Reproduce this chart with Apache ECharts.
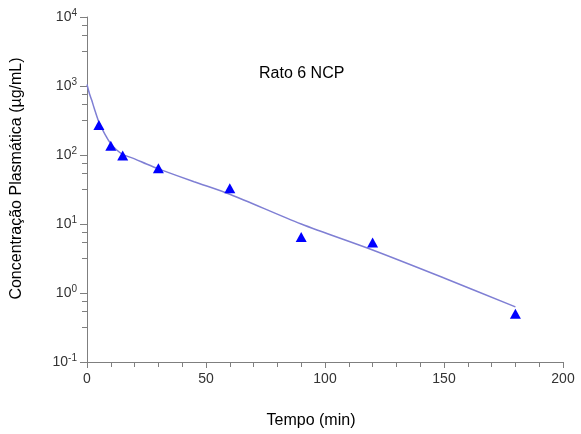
<!DOCTYPE html>
<html>
<head>
<meta charset="utf-8">
<script src="https://cdn.jsdelivr.net/npm/echarts@6/dist/echarts.min.js"></script>
<style>html,body{margin:0;padding:0;background:#fff}#c{width:581px;height:434px}</style>
</head>
<body>
<div id="c"></div>
<script>
// Observed data (time in min, concentration in µg/mL)
var obsTime = [5, 10, 15, 30, 60, 90, 120, 180];
var obsConc = [272, 136, 98, 64, 33, 6.5, 5.4, 0.5];
// Fitted curve
var fitTime = [0, 1, 2, 3, 5, 7.5, 10, 12.5, 15, 20, 25, 30, 45, 60, 90, 120, 150, 180];
var fitConc = [1050, 780, 620, 480, 300, 200, 145, 118, 102, 88, 74, 63, 41, 27, 10, 4.2, 1.65, 0.63];
// Minor tick multipliers within each decade on the log axis
var minorMult = [3.25, 5.5, 7.75];
var decades = [0.1, 1, 10, 100, 1000];
var titleText = 'Rato 6 NCP';
var xName = 'Tempo (min)';
var yName = 'Concentração Plasmática (µg/mL)';

var chart = echarts.init(document.getElementById('c'), null, {renderer: 'canvas'});
var font = 'Liberation Sans, Arial, sans-serif';
chart.setOption({
  animation: false,
  backgroundColor: '#fff',
  title: {
    text: titleText, left: 254, top: 61,
    textStyle: {fontFamily: font, fontSize: 16, fontWeight: 'normal', color: '#000'}
  },
  grid: {left: 87, right: 18, top: 17, bottom: 72},
  xAxis: {
    type: 'value', min: 0, max: 200, interval: 50,
    name: xName, nameLocation: 'middle', nameGap: 51,
    nameTextStyle: {fontFamily: font, fontSize: 16, color: '#000', padding: [0, 28, 0, 0]},
    axisLine: {show: true, lineStyle: {color: '#7f7f7f', width: 1}},
    axisTick: {show: true, length: 6, lineStyle: {color: '#7f7f7f'}},
    minorTick: {show: true, splitNumber: 5, length: 5, lineStyle: {color: '#7f7f7f'}},
    splitLine: {show: false},
    axisLabel: {fontFamily: font, fontSize: 14, color: '#333', margin: 10}
  },
  yAxis: {
    type: 'log', logBase: 10, min: 0.1, max: 10000,
    name: yName, nameLocation: 'middle', nameGap: 62, nameRotate: 90,
    nameTextStyle: {fontFamily: font, fontSize: 16, color: '#000', padding: [0, 0, 0, 22]},
    axisLine: {show: true, lineStyle: {color: '#7f7f7f', width: 1}},
    axisTick: {show: true, length: 7, lineStyle: {color: '#7f7f7f'}},
    minorTick: {show: false},
    splitLine: {show: false},
    axisLabel: {
      margin: 10,
      formatter: function (v) {
        var e = Math.round(Math.log10(v));
        return '{b|10}{s|' + e + '}';
      },
      rich: {
        b: {fontFamily: font, fontSize: 14, color: '#333'},
        s: {fontFamily: font, fontSize: 10, color: '#333', padding: [0, 0, 8, 0]}
      }
    }
  },
  series: [
    {
      type: 'line', data: fitTime.map(function (t, i) { return [t, fitConc[i]]; }),
      smooth: 0.3, showSymbol: false, symbol: 'none',
      lineStyle: {color: '#7f7fd4', width: 1.5}, z: 2
    },
    {
      type: 'scatter', data: obsTime.map(function (t, i) { return [t, obsConc[i]]; }),
      symbol: 'triangle', symbolSize: [11, 10],
      itemStyle: {color: '#0000ff', opacity: 1}, z: 3
    }
  ]
});

// Minor ticks on the log axis, placed through the axis scale
var x0 = chart.convertToPixel({xAxisIndex: 0}, 0);
var els = [];
decades.forEach(function (d) {
  minorMult.forEach(function (m) {
    var y = Math.round(chart.convertToPixel({yAxisIndex: 0}, d * m)) + 0.5;
    els.push({
      type: 'line', silent: true,
      shape: {x1: x0 - 5, y1: y, x2: x0, y2: y},
      style: {stroke: '#7f7f7f', lineWidth: 1}
    });
  });
});
chart.setOption({graphic: {elements: els}});
</script>
</body>
</html>
